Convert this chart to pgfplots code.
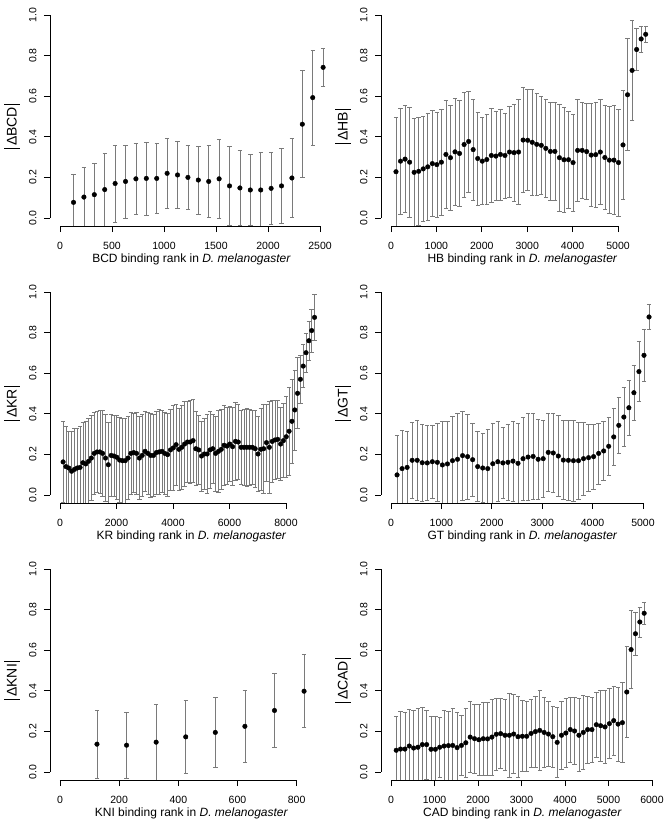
\documentclass[border=0pt]{standalone}
\usepackage{fontspec}
\setmainfont{Liberation Sans}
\usepackage{pgfplots}
\pgfplotsset{compat=1.18}
\newcommand{\absl}[1]{\rule[-3pt]{0.8pt}{15.5pt}\hspace{2pt}#1\hspace{2pt}\rule[-3pt]{0.8pt}{15.5pt}}
\pgfplotsset{
  rpanel/.style={
    scale only axis, width=283pt, height=219.24pt, anchor=south west,
    ymin=-0.04, ymax=1.04, scaled ticks=false,
    ytick={0,0.2,0.4,0.6,0.8,1}, yticklabels={0.0,0.2,0.4,0.6,0.8,1.0},
    axis line style={draw=none},
    xtick pos=left, ytick pos=left,
    tick align=outside, major tick length=6pt,
    tick style={black, line width=0.7pt},
    tick label style={font=\fontsize{10.5}{12}\selectfont},
    xticklabel style={anchor=center, yshift=-13.5pt},
    yticklabel style={xshift=-11.2pt, rotate=90, anchor=center},
    every axis x label/.style={at={(axis description cs:0.5,-0.152)}, anchor=center, font=\fontsize{12}{14}\selectfont},
    every axis y label/.style={at={(axis description cs:-0.135,0.455)}, rotate=90, anchor=center, font=\fontsize{14}{16}\selectfont},
  },
  pts/.style={only marks, mark=*, mark size=2.3pt, black,
    error bars/.cd, y dir=both, y explicit,
    error bar style={draw=black!52, line width=0.65pt},
    error mark options={rotate=90, draw=black!52, mark size=2.2pt, line width=0.65pt}},
}
\tikzset{axl/.style={black, line width=0.75pt}}
\begin{document}
\begin{tikzpicture}
\path[use as bounding box] (0,0) rectangle (664pt,831pt);
% ---------------- BCD
\begin{axis}[rpanel, at={(50pt,604.88pt)}, xmin=-96.15, xmax=2625,
  xtick={0,500,1000,1500,2000,2500}, xticklabels={0,500,1000,1500,2000,2500},
  xlabel={BCD binding rank in \textit{D. melanogaster}},
  ylabel={\absl{ΔBCD}}]
\addplot[pts] table[x=x,y=y,y error=e] {
x y e
130 0.077 0.138
230 0.103 0.147
330 0.115 0.155
430 0.140 0.180
530 0.170 0.190
630 0.180 0.180
730 0.193 0.177
830 0.195 0.180
930 0.195 0.172
1030 0.220 0.173
1130 0.212 0.165
1230 0.200 0.158
1330 0.187 0.168
1430 0.180 0.177
1530 0.193 0.193
1630 0.158 0.194
1730 0.148 0.185
1830 0.138 0.175
1930 0.138 0.187
2030 0.146 0.176
2130 0.158 0.184
2230 0.197 0.195
2330 0.462 0.263
2430 0.593 0.235
2530 0.742 0.095
};
\coordinate (a1) at (axis cs:0,-0.04); \coordinate (b1) at (axis cs:2500,-0.04);
\coordinate (c1) at (axis cs:-96.15,0); \coordinate (d1) at (axis cs:-96.15,1);
\end{axis}
\draw[axl] (a1)--(b1) (c1)--(d1);
% ---------------- HB
\begin{axis}[rpanel, at={(381pt,604.88pt)}, xmin=-220.3, xmax=6013,
  xtick={0,1000,2000,3000,4000,5000}, xticklabels={0,1000,2000,3000,4000,5000},
  xlabel={HB binding rank in \textit{D. melanogaster}},
  ylabel={\absl{ΔHB}}]
\addplot[pts] table[x=x,y=y,y error=e] {
x y e
110 0.228 0.267
210 0.280 0.260
310 0.290 0.263
410 0.275 0.270
510 0.225 0.268
610 0.230 0.268
710 0.242 0.258
810 0.252 0.262
910 0.268 0.262
1010 0.263 0.260
1110 0.275 0.260
1210 0.313 0.265
1310 0.297 0.257
1410 0.326 0.262
1510 0.318 0.260
1610 0.362 0.258
1710 0.377 0.249
1810 0.337 0.250
1910 0.293 0.229
2010 0.280 0.214
2110 0.288 0.222
2210 0.308 0.230
2310 0.305 0.220
2410 0.313 0.224
2510 0.308 0.210
2610 0.325 0.225
2710 0.322 0.240
2810 0.325 0.260
2910 0.384 0.260
3010 0.383 0.249
3110 0.373 0.260
3210 0.363 0.249
3310 0.358 0.242
3410 0.343 0.240
3510 0.328 0.241
3610 0.328 0.243
3710 0.297 0.262
3810 0.287 0.258
3910 0.287 0.240
4010 0.273 0.240
4110 0.333 0.253
4210 0.333 0.238
4310 0.327 0.236
4410 0.310 0.254
4510 0.312 0.260
4610 0.325 0.258
4710 0.298 0.255
4810 0.285 0.263
4910 0.285 0.268
5010 0.273 0.264
5110 0.360 0.268
5210 0.607 0.276
5310 0.727 0.248
5410 0.830 0.102
5510 0.882 0.064
5610 0.905 0.040
};
\coordinate (a2) at (axis cs:0,-0.04); \coordinate (b2) at (axis cs:5000,-0.04);
\coordinate (c2) at (axis cs:-220.3,0); \coordinate (d2) at (axis cs:-220.3,1);
\end{axis}
\draw[axl] (a2)--(b2) (c2)--(d2);
% ---------------- KR
\begin{axis}[rpanel, at={(50pt,327.88pt)}, xmin=-354, xmax=9664,
  xtick={0,2000,4000,6000,8000}, xticklabels={0,2000,4000,6000,8000},
  xlabel={KR binding rank in \textit{D. melanogaster}},
  ylabel={\absl{ΔKR}}]
\addplot[pts] table[x=x,y=y,y error=e] {
x y e
110 0.163 0.198
210 0.140 0.197
310 0.133 0.180
410 0.117 0.195
510 0.126 0.200
610 0.133 0.197
710 0.136 0.200
810 0.159 0.200
910 0.153 0.210
1010 0.166 0.210
1110 0.182 0.210
1210 0.205 0.200
1310 0.212 0.200
1410 0.212 0.205
1510 0.205 0.210
1610 0.182 0.215
1710 0.149 0.210
1810 0.195 0.200
1910 0.192 0.200
2010 0.186 0.205
2110 0.172 0.210
2210 0.169 0.210
2310 0.169 0.210
2410 0.182 0.205
2510 0.205 0.200
2610 0.209 0.195
2710 0.205 0.200
2810 0.182 0.205
2910 0.195 0.200
3010 0.215 0.195
3110 0.205 0.200
3210 0.195 0.205
3310 0.195 0.200
3410 0.209 0.205
3510 0.212 0.210
3610 0.215 0.200
3710 0.205 0.200
3810 0.199 0.205
3910 0.222 0.200
4010 0.232 0.210
4110 0.248 0.200
4210 0.225 0.200
4310 0.235 0.205
4410 0.251 0.210
4510 0.261 0.200
4610 0.261 0.205
4710 0.268 0.205
4810 0.228 0.182
4910 0.222 0.170
5010 0.192 0.173
5110 0.202 0.176
5210 0.202 0.195
5310 0.222 0.188
5410 0.228 0.170
5510 0.205 0.185
5610 0.215 0.200
5710 0.225 0.197
5810 0.245 0.198
5910 0.241 0.190
6010 0.251 0.184
6110 0.238 0.192
6210 0.264 0.192
6310 0.261 0.186
6410 0.235 0.184
6510 0.235 0.187
6610 0.235 0.192
6710 0.235 0.187
6810 0.235 0.184
6910 0.228 0.189
7010 0.202 0.184
7110 0.225 0.202
7210 0.228 0.219
7310 0.258 0.189
7410 0.235 0.225
7510 0.264 0.200
7610 0.271 0.194
7710 0.274 0.191
7810 0.251 0.180
7910 0.268 0.182
8010 0.287 0.200
8110 0.314 0.215
8210 0.363 0.208
8310 0.419 0.197
8410 0.501 0.175
8510 0.570 0.120
8610 0.635 0.105
8710 0.701 0.097
8810 0.760 0.097
8910 0.810 0.107
9010 0.875 0.113
};
\coordinate (a3) at (axis cs:0,-0.04); \coordinate (b3) at (axis cs:8000,-0.04);
\coordinate (c3) at (axis cs:-354,0); \coordinate (d3) at (axis cs:-354,1);
\end{axis}
\draw[axl] (a3)--(b3) (c3)--(d3);
% ---------------- GT
\begin{axis}[rpanel, at={(381pt,327.88pt)}, xmin=-198.4, xmax=5417,
  xtick={0,1000,2000,3000,4000,5000}, xticklabels={0,1000,2000,3000,4000,5000},
  xlabel={GT binding rank in \textit{D. melanogaster}},
  ylabel={\absl{ΔGT}}]
\addplot[pts] table[x=x,y=y,y error=e] {
x y e
120 0.099 0.193
220 0.130 0.187
320 0.136 0.178
420 0.171 0.187
520 0.171 0.198
620 0.159 0.191
720 0.158 0.185
820 0.164 0.181
920 0.161 0.190
1020 0.148 0.213
1120 0.153 0.210
1220 0.169 0.217
1320 0.176 0.226
1420 0.194 0.220
1520 0.189 0.208
1620 0.174 0.179
1720 0.140 0.172
1820 0.133 0.171
1920 0.130 0.192
2020 0.154 0.199
2120 0.164 0.197
2220 0.158 0.174
2320 0.161 0.187
2420 0.167 0.198
2520 0.156 0.197
2620 0.179 0.204
2720 0.187 0.215
2820 0.190 0.210
2920 0.176 0.195
3020 0.179 0.190
3120 0.210 0.190
3220 0.207 0.195
3320 0.192 0.200
3420 0.172 0.195
3520 0.171 0.197
3620 0.169 0.200
3720 0.169 0.190
3820 0.179 0.180
3920 0.184 0.165
4020 0.189 0.160
4120 0.205 0.150
4220 0.217 0.145
4320 0.240 0.145
4420 0.286 0.141
4520 0.343 0.137
4620 0.384 0.146
4720 0.430 0.135
4820 0.504 0.135
4920 0.608 0.147
5020 0.688 0.130
5120 0.877 0.060
};
\coordinate (a4) at (axis cs:0,-0.04); \coordinate (b4) at (axis cs:5000,-0.04);
\coordinate (c4) at (axis cs:-198.4,0); \coordinate (d4) at (axis cs:-198.4,1);
\end{axis}
\draw[axl] (a4)--(b4) (c4)--(d4);
% ---------------- KNI
\begin{axis}[rpanel, at={(50pt,50.88pt)}, xmin=-33.8, xmax=922.8,
  xtick={0,200,400,600,800}, xticklabels={0,200,400,600,800},
  xlabel={KNI binding rank in \textit{D. melanogaster}},
  ylabel={\absl{ΔKNI}}]
\addplot[pts] table[x=x,y=y,y error=e] {
x y e
125 0.137 0.168
225 0.132 0.162
325 0.147 0.188
425 0.173 0.178
525 0.195 0.172
625 0.225 0.179
725 0.303 0.183
825 0.398 0.180
};
\coordinate (a5) at (axis cs:0,-0.04); \coordinate (b5) at (axis cs:800,-0.04);
\coordinate (c5) at (axis cs:-33.8,0); \coordinate (d5) at (axis cs:-33.8,1);
\end{axis}
\draw[axl] (a5)--(b5) (c5)--(d5);
% ---------------- CAD
\begin{axis}[rpanel, at={(381pt,50.88pt)}, xmin=-230, xmax=6276,
  xtick={0,1000,2000,3000,4000,5000,6000}, xticklabels={0,1000,2000,3000,4000,5000,6000},
  xlabel={CAD binding rank in \textit{D. melanogaster}},
  ylabel={\absl{ΔCAD}}]
\addplot[pts] table[x=x,y=y,y error=e] {
x y e
120 0.107 0.167
220 0.113 0.186
320 0.113 0.181
420 0.128 0.181
520 0.118 0.186
620 0.122 0.190
720 0.135 0.182
820 0.135 0.169
920 0.112 0.164
1020 0.112 0.164
1120 0.122 0.149
1220 0.128 0.174
1320 0.130 0.169
1420 0.131 0.181
1520 0.120 0.176
1620 0.131 0.148
1720 0.144 0.168
1820 0.172 0.176
1920 0.164 0.169
2020 0.159 0.173
2120 0.164 0.179
2220 0.163 0.180
2320 0.172 0.186
2420 0.186 0.179
2520 0.189 0.172
2620 0.181 0.175
2720 0.181 0.205
2820 0.187 0.194
2920 0.174 0.200
3020 0.176 0.175
3120 0.176 0.172
3220 0.190 0.168
3320 0.199 0.174
3420 0.205 0.197
3520 0.195 0.174
3620 0.187 0.161
3720 0.174 0.149
3820 0.146 0.171
3920 0.181 0.167
4020 0.192 0.169
4120 0.209 0.160
4220 0.202 0.166
4320 0.181 0.180
4420 0.195 0.183
4520 0.209 0.164
4620 0.209 0.160
4720 0.233 0.161
4820 0.228 0.174
4920 0.222 0.180
5020 0.238 0.172
5120 0.253 0.171
5220 0.236 0.183
5320 0.243 0.197
5420 0.394 0.225
5520 0.603 0.193
5620 0.681 0.104
5720 0.739 0.074
5820 0.782 0.054
};
\coordinate (a6) at (axis cs:0,-0.04); \coordinate (b6) at (axis cs:6000,-0.04);
\coordinate (c6) at (axis cs:-230,0); \coordinate (d6) at (axis cs:-230,1);
\end{axis}
\draw[axl] (a6)--(b6) (c6)--(d6);
\end{tikzpicture}
\end{document}
